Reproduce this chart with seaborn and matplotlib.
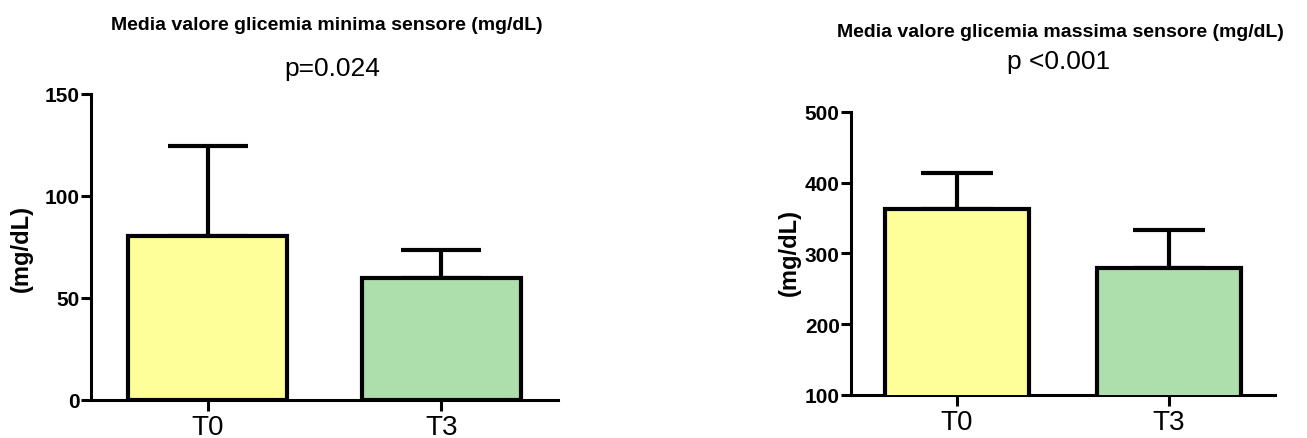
import matplotlib
matplotlib.use("Agg")
import matplotlib.pyplot as plt
import seaborn as sns
import pandas as pd

# Data: mean sensor glycaemia (mg/dL) at T0 and T3, with SD shown as upper error bars
categories = ["T0", "T3"]
min_means = [80.5, 60.0]
min_sd = [44.0, 13.5]
max_means = [363.5, 279.5]
max_sd = [50.0, 53.0]

titles = ["Media valore glicemia minima sensore (mg/dL)",
          "Media valore glicemia massima sensore (mg/dL)"]
pvalues = ["p=0.024", "p <0.001"]
ylabel = "(mg/dL)"
bar_colors = ["#FFFF99", "#ADDFAD"]

sns.set_theme(style="white")
plt.rcParams["font.family"] = ["Liberation Sans", "DejaVu Sans"]
plt.rcParams["text.color"] = "black"
plt.rcParams["xtick.color"] = "black"
plt.rcParams["ytick.color"] = "black"

fig = plt.figure(figsize=(13.07, 4.39), dpi=100)
ax1 = fig.add_axes([0.0696, 0.0866, 0.3573, 0.697])
ax2 = fig.add_axes([0.651, 0.098, 0.3244, 0.6446])


def draw_panel(ax, means, sds, ylim, yticks, capsize):
    df = pd.DataFrame({"time": categories, "value": means})
    sns.barplot(data=df, x="time", y="value", hue="time", palette=bar_colors,
                order=categories, hue_order=categories, legend=False,
                errorbar=None, width=0.68, saturation=1, edgecolor="black",
                linewidth=3.0, ax=ax, zorder=3)
    ax.errorbar(range(len(categories)), means, yerr=[[0] * len(sds), sds],
                fmt="none", ecolor="black", elinewidth=3.0, capsize=capsize,
                capthick=3.0, zorder=2)
    ax.set_xlim(-0.5, 1.5)
    ax.set_ylim(*ylim)
    ax.set_yticks(yticks)
    ax.set_xlabel("")
    ax.set_ylabel("")
    for side in ["top", "right"]:
        ax.spines[side].set_visible(False)
    for side in ["left", "bottom"]:
        ax.spines[side].set_linewidth(2.2)
        ax.spines[side].set_color("black")
    ax.tick_params(axis="y", direction="out", length=7, width=2.2,
                   labelsize=15, left=True, pad=1)
    ax.tick_params(axis="x", direction="out", length=8, width=2.2,
                   labelsize=20, bottom=True, pad=2)
    for lab in ax.get_yticklabels():
        lab.set_fontweight("bold")


draw_panel(ax1, min_means, min_sd, (0, 150), [0, 50, 100, 150], 28.8)
draw_panel(ax2, max_means, max_sd, (100, 500), [100, 200, 300, 400, 500], 26)

fig.text(0.250, 0.943, titles[0], ha="center", va="center",
         fontsize=14, fontweight="bold")
fig.text(0.254, 0.843, pvalues[0], ha="center", va="center", fontsize=19)
fig.text(0.811, 0.925, titles[1], ha="center", va="center",
         fontsize=14, fontweight="bold")
fig.text(0.810, 0.859, pvalues[1], ha="center", va="center", fontsize=19)

fig.text(0.016, 0.435, ylabel, rotation=90, ha="center", va="center",
         fontsize=17, fontweight="bold")
fig.text(0.604, 0.424, ylabel, rotation=90, ha="center", va="center",
         fontsize=17, fontweight="bold")

fig.savefig("out.png", dpi=100, facecolor="white")
